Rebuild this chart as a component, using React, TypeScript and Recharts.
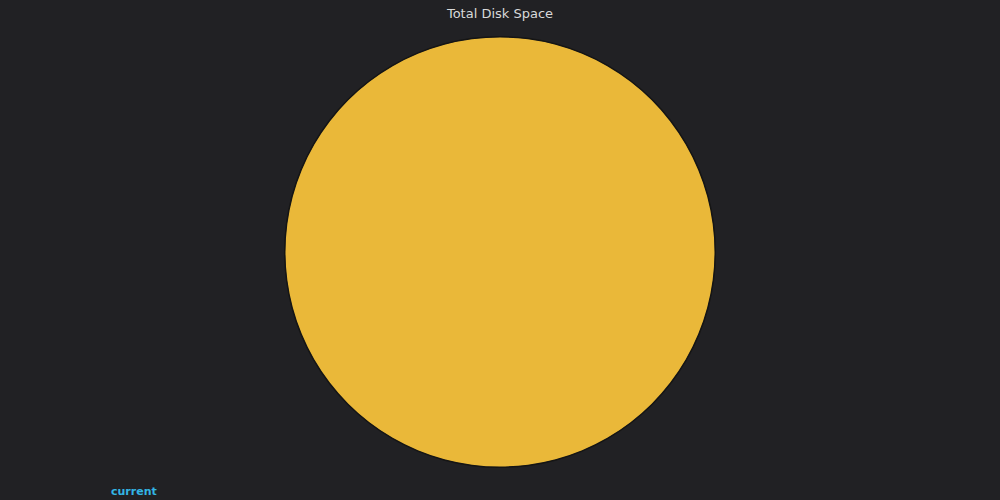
import { PieChart, Pie, Cell } from "recharts";

const seriesNames = ["current"];
const seriesValues = [1];
const seriesColors = ["#EAB839"];

const data = seriesNames.map((name, i) => ({ name, value: seriesValues[i] }));

export default function App() {
  return (
    <div
      style={{
        position: "relative",
        width: 1000,
        height: 500,
        background: "#212124",
        overflow: "hidden",
      }}
    >
      <style>{"body{margin:0}"}</style>
      <div
        style={{
          position: "absolute",
          top: 6,
          width: "100%",
          textAlign: "center",
          fontFamily: "DejaVu Sans, sans-serif",
          fontSize: 13,
          color: "#d8d9da",
        }}
      >
        Total Disk Space
      </div>
      <PieChart
        width={1000}
        height={500}
        margin={{ top: 0, right: 0, bottom: 0, left: 0 }}
      >
        <Pie
          data={data}
          dataKey="value"
          nameKey="name"
          cx={500}
          cy={252}
          outerRadius={215}
          startAngle={90}
          endAngle={-270}
          stroke="none"
          isAnimationActive={false}
        >
          {data.map((d, i) => (
            <Cell key={d.name} fill={seriesColors[i]} />
          ))}
        </Pie>
        {/* outline ring */}
        <Pie
          data={data}
          dataKey="value"
          cx={500}
          cy={252}
          innerRadius={214.5}
          outerRadius={216}
          startAngle={90}
          endAngle={-270}
          fill="#151515"
          stroke="none"
          isAnimationActive={false}
        />
      </PieChart>
      <div
        style={{
          position: "absolute",
          left: 111,
          top: 485,
          fontFamily: "DejaVu Sans, sans-serif",
          fontSize: 11,
          fontWeight: "bold",
          color: "#33b5e5",
        }}
      >
        {seriesNames[0]}
      </div>
    </div>
  );
}
